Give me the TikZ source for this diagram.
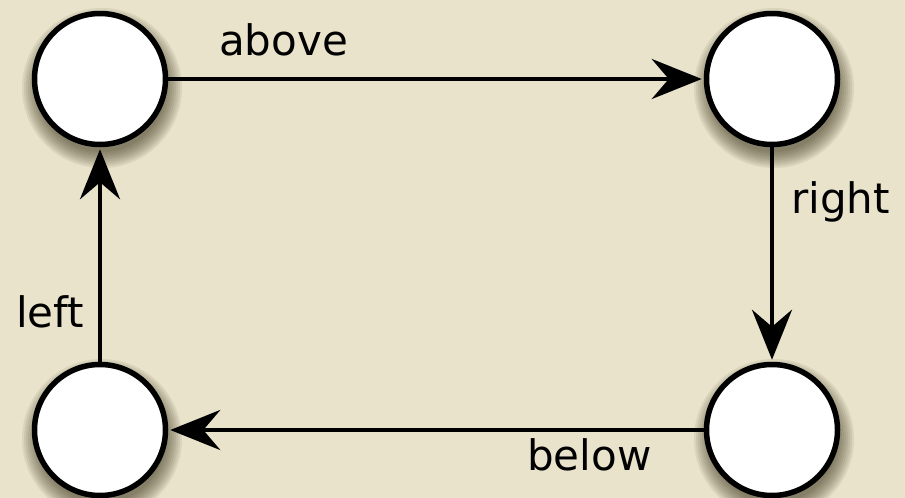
\documentclass[tikz,border=0pt]{standalone}
\usepackage{fontspec}
\setmainfont{DejaVu Sans}
\usetikzlibrary{arrows.meta}
\definecolor{bgbeige}{RGB}{233,227,204}
\definecolor{shadowcol}{RGB}{50,42,15}
\begin{document}
\begin{tikzpicture}[x=1pt,y=-1pt,
  state/.style={circle,draw=black,fill=white,line width=5.5pt,minimum size=131pt,inner sep=0pt},
  softshadow/.style={fill=shadowcol,opacity=0.08},
  conn/.style={line width=4.5pt,-{Stealth[length=50pt,width=40pt,inset=17pt]},shorten >=2pt},
  lbl/.style={inner sep=0pt,anchor=base west,font=\fontsize{42}{50}\selectfont}]
\fill[bgbeige] (0,0) rectangle (905,498);
\useasboundingbox (0,0) rectangle (905,498);
\foreach \cx/\cy in {100/79,772/79,100/430,772/430}{
  \foreach \r in {64,66,...,80}{
    \fill[softshadow] (\cx+2,\cy+9) circle[radius=\r pt];
  }
}
\node[state] (tl) at (100,79) {};
\node[state] (tr) at (772,79) {};
\node[state] (bl) at (100,430) {};
\node[state] (br) at (772,430) {};
\draw[conn] (tl) -- (tr);
\draw[conn] (tr) -- (br);
\draw[conn] (br) -- (bl);
\draw[conn] (bl) -- (tl);
\node[lbl] (labove) at (219,55) {above};
\node[lbl] (lright) at (791,213) {right};
\node[lbl] (lbelow) at (527,470) {below};
\node[lbl] (lleft) at (16,327) {left};
\end{tikzpicture}
\end{document}
